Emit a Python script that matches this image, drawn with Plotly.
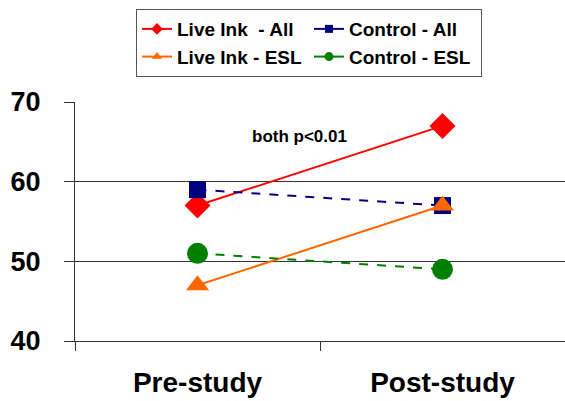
import plotly.graph_objects as go

categories = ["Pre-study", "Post-study"]
live_all = [57, 67]
control_all = [59, 57]
live_esl = [47, 57]
control_esl = [51, 49]
y_ticks = [40, 50, 60, 70]

FONT = "Liberation Sans, Arial, sans-serif"

series = [
    ("Live Ink  - All", live_all, "#FF0000", "solid", "diamond", 20, 9),
    ("Control - All", control_all, "#000080", "dash", "square", 17, 8),
    ("Live Ink - ESL", live_esl, "#FF6600", "solid", "triangle-up", 20, 9),
    ("Control - ESL", control_esl, "#008000", "dash", "circle", 21, 9),
]

fig = go.Figure()
for name, vals, color, dash, sym, size, lsize in series:
    fig.add_trace(go.Scatter(
        x=categories, y=vals, mode="lines+markers", name=name,
        line=dict(color=color, width=2, dash=dash),
        marker=dict(symbol=sym, size=size, color=color),
        showlegend=False,
    ))
for name, vals, color, dash, sym, size, lsize in series:
    fig.add_trace(go.Scatter(
        x=[None], y=[None], mode="lines+markers", name=name,
        line=dict(color=color, width=2, dash="solid"),
        marker=dict(symbol=sym, size=lsize, color=color),
        showlegend=True,
    ))

fig.update_layout(
    width=565, height=401,
    margin=dict(l=75, r=0, t=102, b=60),
    paper_bgcolor="white", plot_bgcolor="white",
    font=dict(family=FONT, color="black"),
    legend=dict(
        orientation="h", x=0.1245, y=1.389, xanchor="left", yanchor="top",
        entrywidth=127, entrywidthmode="pixels",
        bordercolor="#555555", borderwidth=1, bgcolor="white",
        font=dict(family=FONT, size=19, weight="bold", color="black"),
        traceorder="normal",
    ),
    annotations=[dict(
        text="both p<0.01", xref="paper", yref="paper", x=0.459, y=0.905,
        showarrow=False, font=dict(family=FONT, size=17, weight="bold", color="black"),
    )],
)

fig.update_xaxes(
    type="category", range=[-0.5, 1.5], automargin=False,
    showline=True, linecolor="#333333", linewidth=1,
    ticks="outside", tickson="boundaries", ticklen=9, tickcolor="#333333", tickwidth=1,
    showgrid=False, ticklabelstandoff=16,
    tickfont=dict(family=FONT, size=28, weight="bold", color="black"),
)
fig.update_yaxes(
    range=[40, 70], tickvals=y_ticks, automargin=False,
    showline=True, linecolor="#333333", linewidth=1,
    ticks="outside", ticklen=10, tickcolor="#333333", tickwidth=1,
    showgrid=True, gridcolor="#333333", gridwidth=1, zeroline=False,
    ticklabelstandoff=18,
    tickfont=dict(family=FONT, size=27, weight="bold", color="black"),
)

fig.write_html(
    "out.html",
    config={"displayModeBar": False},
    post_script="document.body.style.margin='0';document.documentElement.style.overflow='hidden';document.body.style.overflow='hidden';",
)
